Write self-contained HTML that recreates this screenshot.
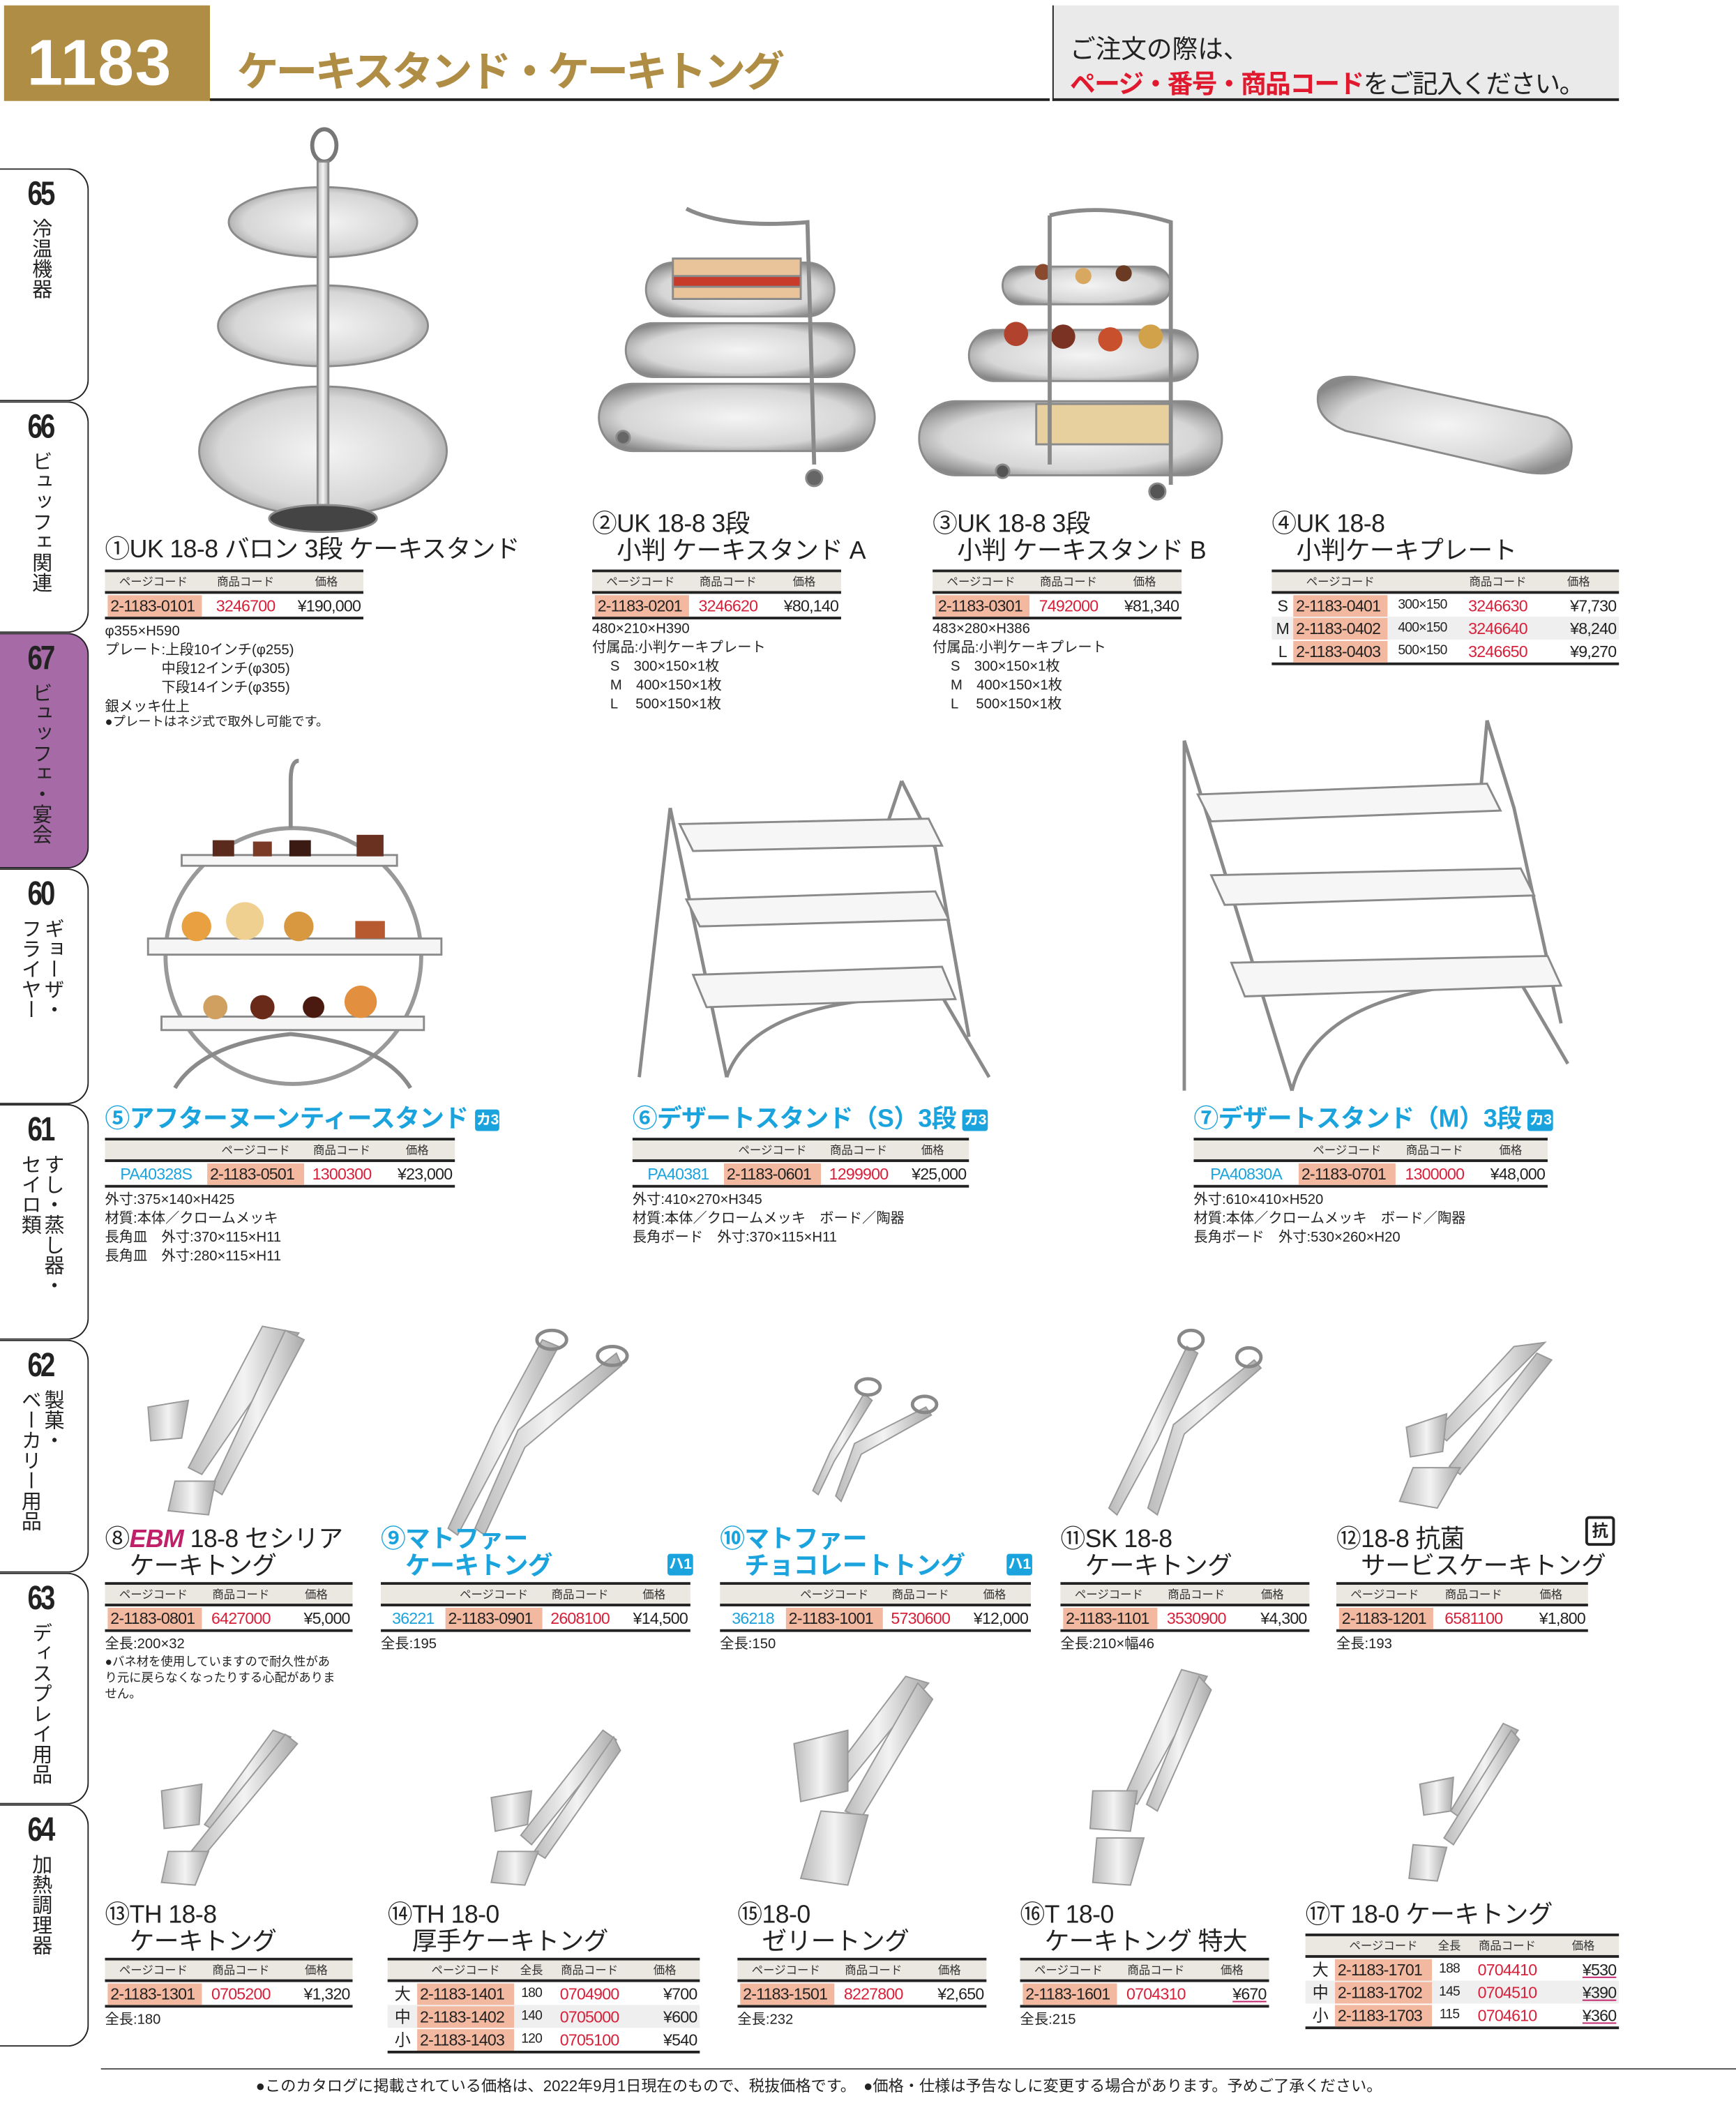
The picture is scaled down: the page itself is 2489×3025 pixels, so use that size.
<!DOCTYPE html>
<html><head><meta charset="utf-8">
<style>
*{margin:0;padding:0;box-sizing:border-box}
html,body{width:2489px;height:3025px;overflow:hidden;background:#fff}
#p{position:absolute;left:0;top:0;width:1290px;height:1567px;transform:scale(1.9295,1.9304);transform-origin:0 0;font-family:"Liberation Sans","Noto Sans CJK JP",sans-serif;color:#222}
.a{position:absolute;white-space:nowrap}
.ti{position:absolute;font-size:18.5px;line-height:20px;white-space:nowrap;color:#222;letter-spacing:-0.3px}
.bl{color:#1aa3dc;font-weight:bold}
.sp{position:absolute;font-size:10.5px;line-height:14px;white-space:pre;color:#222}
.t{position:absolute;border-top:2.5px solid #222;border-bottom:2.5px solid #222}
.h{display:grid;background:#ebe8e1;height:16px;font-size:8.5px;align-items:center;border-bottom:2px solid #222;color:#333;text-align:center}
.r{display:grid;height:17px;font-size:12px;align-items:center;letter-spacing:-0.4px;white-space:nowrap}
.r.g{background:#efefef}
.pc{background:#f3b8a0;height:16px;line-height:16px;padding:0 2px}
.rd{color:#d8203a;text-align:center}
.pr{text-align:right;padding-right:2px}
.cb{color:#1aa3dc;text-align:center}
.tab{position:absolute;left:0;width:66px;border:1.5px solid #222;border-left:none;border-radius:0 16px 16px 0}
.tab b{position:absolute;top:4px;left:0;width:60px;text-align:center;font-size:25px;font-weight:bold;letter-spacing:-2px;transform:scaleX(.8)}
.tab i{position:absolute;top:36px;font-style:normal;writing-mode:vertical-rl;font-size:15px;line-height:17px;left:17px;height:150px}
.bx{display:inline-block;background:#1aa3dc;color:#fff;font-size:11px;font-weight:bold;border-radius:2px;padding:0 1px;line-height:16px;vertical-align:middle}
</style></head><body><div id="p">

<!-- header -->
<div class="a" style="left:3px;top:4px;width:153px;height:71px;background:#b08d45"></div>
<div class="a" style="left:20px;top:20px;font-size:48px;font-weight:bold;color:#fff;letter-spacing:1px">1183</div>
<div class="a" style="left:176px;top:28px;font-size:31px;font-weight:bold;color:#b08d45;letter-spacing:-2px">ケーキスタンド・ケーキトング</div>
<div class="a" style="left:156px;top:73px;width:624px;height:2px;background:#222"></div>
<div class="a" style="left:782px;top:4px;width:421px;height:71px;background:#eaeaea;border-left:1.5px solid #222;border-bottom:2px solid #222"></div>
<div class="a" style="left:795px;top:22px;font-size:19px;color:#222">ご注文の際は、</div>
<div class="a" style="left:795px;top:48px;font-size:19px;color:#222;letter-spacing:-0.8px"><span style="color:#e0192e;font-weight:bold">ページ・番号・商品コード</span>をご記入ください。</div>

<!-- tabs -->
<div class="tab" style="top:125px;height:173px"><b>65</b><i style="left:22px">冷温機器</i></div>
<div class="tab" style="top:298px;height:172px"><b>66</b><i style="left:22px">ビュッフェ関連</i></div>
<div class="tab" style="top:470px;height:175px;background:#a66aa7"><b>67</b><i style="left:22px">ビュッフェ・宴会</i></div>
<div class="tab" style="top:645px;height:175px"><b>60</b><i style="left:14px">ギョーザ・<br>フライヤー</i></div>
<div class="tab" style="top:820px;height:175px"><b>61</b><i style="left:14px">すし・蒸し器・<br>セイロ類</i></div>
<div class="tab" style="top:995px;height:173px"><b>62</b><i style="left:14px">製菓・<br>ベーカリー用品</i></div>
<div class="tab" style="top:1168px;height:172px"><b>63</b><i style="left:22px">ディスプレイ用品</i></div>
<div class="tab" style="top:1340px;height:180px"><b>64</b><i style="left:22px">加熱調理器</i></div>

<!-- images -->
<svg class="a" style="left:0;top:0" width="1290" height="1567" viewBox="0 0 1290 1567">
<defs>
<radialGradient id="sv" cx="50%" cy="50%" r="60%"><stop offset="0" stop-color="#f4f4f4"/><stop offset=".7" stop-color="#d6d6d6"/><stop offset="1" stop-color="#888"/></radialGradient>
<linearGradient id="st" x1="0" x2="1"><stop offset="0" stop-color="#bbb"/><stop offset=".5" stop-color="#f3f3f3"/><stop offset="1" stop-color="#aaa"/></linearGradient>
</defs>
<g stroke="#8a8a8a" stroke-width="1.5">
<!-- 1 -->
<ellipse cx="241" cy="108" rx="9" ry="12" fill="none" stroke="#777" stroke-width="3"/>
<ellipse cx="240" cy="335" rx="92" ry="48" fill="url(#sv)"/>
<ellipse cx="240" cy="242" rx="78" ry="30" fill="url(#sv)"/>
<ellipse cx="240" cy="165" rx="70" ry="26" fill="url(#sv)"/>
<rect x="236" y="120" width="8" height="255" fill="url(#st)"/>
<ellipse cx="240" cy="385" rx="40" ry="10" fill="#444"/>
<!-- 2 -->
<rect x="445" y="285" width="205" height="50" rx="25" fill="url(#sv)"/>
<rect x="465" y="240" width="170" height="40" rx="20" fill="url(#sv)"/>
<rect x="480" y="195" width="140" height="40" rx="20" fill="url(#sv)"/>
<rect x="500" y="192" width="95" height="30" fill="#e9c49a"/><rect x="500" y="205" width="95" height="8" fill="#c83a2a"/>
<path d="M510 155 Q540 170 600 165 L605 345" fill="none" stroke-width="3"/>
<circle cx="463" cy="325" r="5" fill="#666"/><circle cx="605" cy="355" r="6" fill="#666"/>
<!-- 3 -->
<rect x="683" y="298" width="225" height="55" rx="27" fill="url(#sv)"/>
<rect x="720" y="245" width="170" height="38" rx="19" fill="url(#sv)"/>
<rect x="745" y="198" width="125" height="28" rx="14" fill="url(#sv)"/>
<rect x="770" y="300" width="100" height="30" fill="#e8cf9e"/>
<g stroke="none"><circle cx="755" cy="248" r="9" fill="#b0422e"/><circle cx="790" cy="250" r="9" fill="#7a3322"/><circle cx="825" cy="252" r="9" fill="#c9502c"/><circle cx="855" cy="250" r="9" fill="#d2a24a"/>
<circle cx="775" cy="202" r="6" fill="#8a4a2e"/><circle cx="805" cy="205" r="6" fill="#d9a860"/><circle cx="835" cy="203" r="6" fill="#6a3b22"/></g>
<path d="M780 160 Q820 150 870 165 L870 360 M780 160 L780 345" fill="none" stroke-width="3"/>
<circle cx="745" cy="350" r="5" fill="#555"/><circle cx="860" cy="365" r="6" fill="#555"/>
<!-- 4 -->
<path d="M980 290 Q990 275 1020 282 L1150 310 Q1175 320 1165 345 Q1155 355 1130 350 L1000 320 Q975 310 980 290Z" fill="url(#sv)"/>
<!-- 5 -->
<circle cx="218" cy="710" r="95" fill="none" stroke="#999" stroke-width="3"/>
<path d="M216 615 L216 580 Q216 565 222 565" fill="none" stroke-width="3"/>
<rect x="135" y="635" width="160" height="8" fill="#f5f5f5"/>
<rect x="110" y="697" width="218" height="12" fill="#f5f5f5"/>
<rect x="120" y="755" width="195" height="10" fill="#f5f5f5"/>
<path d="M130 808 Q150 775 216 768 Q285 775 305 808" fill="none" stroke-width="3"/>
<g stroke="none"><rect x="158" y="624" width="16" height="12" fill="#5a2a1c"/><rect x="188" y="625" width="14" height="11" fill="#7a3a26"/><rect x="215" y="624" width="16" height="12" fill="#3a1a12"/><rect x="265" y="620" width="20" height="16" fill="#6a3020"/>
<circle cx="146" cy="688" r="11" fill="#e8a040"/><circle cx="182" cy="684" r="14" fill="#f0d090"/><circle cx="222" cy="688" r="11" fill="#d89840"/><rect x="264" y="684" width="22" height="13" fill="#b85a30"/>
<circle cx="160" cy="748" r="9" fill="#d0a060"/><circle cx="195" cy="748" r="9" fill="#6a2a1a"/><circle cx="233" cy="748" r="8" fill="#4a1a10"/><circle cx="268" cy="744" r="12" fill="#e29040"/></g>
<!-- 6 -->
<path d="M498 600 L475 800 M498 600 L540 800 M670 580 L660 610 M670 580 L695 630 L720 770 M540 800 Q560 740 700 740 L735 800" fill="none" stroke-width="2.5"/>
<path d="M505 612 L690 608 L700 628 L515 632Z" fill="#f6f6f6"/>
<path d="M510 668 L695 662 L705 683 L520 688Z" fill="#f6f6f6"/>
<path d="M515 724 L700 718 L710 742 L525 748Z" fill="#f6f6f6"/>
<!-- 7 -->
<path d="M880 550 L880 810 M880 550 L960 810 M1105 535 L1100 590 M1105 535 L1125 600 L1160 760 M960 810 Q980 730 1130 730 L1165 790" fill="none" stroke-width="2.5"/>
<path d="M890 590 L1105 582 L1115 602 L900 610Z" fill="#f6f6f6"/>
<path d="M900 650 L1130 645 L1140 665 L910 672Z" fill="#f6f6f6"/>
<path d="M915 715 L1150 710 L1160 732 L925 740Z" fill="#f6f6f6"/>
</g>
<g stroke="#999" stroke-width="1">
<!-- tongs row 3 -->
<g fill="url(#st)">
<path d="M195 985 L222 990 L150 1095 L140 1090Z"/><path d="M212 988 L226 995 L165 1110 L157 1105Z"/>
<path d="M110 1045 L140 1040 L135 1068 L112 1070Z"/><path d="M130 1100 L160 1100 L155 1125 L125 1122Z"/>
<path d="M403 995 L415 1000 L372 1080 L340 1140 L333 1135 L368 1060Z"/><path d="M458 1005 L462 1014 L390 1075 L360 1140 L353 1135 L385 1062Z"/>
<path d="M642 1035 L648 1040 L620 1085 L608 1110 L604 1107 L617 1078Z"/><path d="M688 1045 L692 1051 L640 1080 L625 1115 L621 1111 L635 1072Z"/>
<path d="M882 1000 L890 1005 L860 1070 L830 1125 L824 1120 L852 1062Z"/><path d="M932 1010 L937 1016 L880 1065 L860 1125 L853 1120 L872 1058Z"/>
<path d="M1125 1000 L1148 997 L1075 1070 L1067 1063Z"/><path d="M1142 1005 L1153 1010 L1085 1095 L1077 1089Z"/>
<path d="M1045 1060 L1075 1050 L1072 1078 L1048 1082Z"/><path d="M1050 1090 L1085 1090 L1068 1120 L1040 1115Z"/>
</g>
<g fill="none" stroke="#888" stroke-width="2.5"><ellipse cx="410" cy="995" rx="11" ry="7"/><ellipse cx="455" cy="1007" rx="11" ry="7"/><ellipse cx="645" cy="1030" rx="9" ry="6"/><ellipse cx="687" cy="1043" rx="9" ry="6"/><ellipse cx="885" cy="995" rx="9" ry="7"/><ellipse cx="928" cy="1008" rx="9" ry="7"/></g>
<!-- tongs row 4 -->
<g fill="url(#st)">
<path d="M203 1285 L216 1290 L160 1360 L152 1355Z"/><path d="M212 1288 L221 1295 L150 1380 L142 1375Z"/>
<path d="M120 1330 L150 1325 L148 1355 L122 1358Z"/><path d="M125 1375 L155 1375 L145 1400 L120 1398Z"/>
<path d="M448 1285 L458 1292 L395 1370 L387 1363Z"/><path d="M456 1290 L461 1300 L405 1380 L397 1375Z"/>
<path d="M365 1335 L395 1330 L392 1355 L368 1360Z"/><path d="M370 1375 L400 1375 L390 1400 L365 1398Z"/>
<path d="M673 1245 L690 1250 L625 1330 L614 1323Z"/><path d="M682 1250 L693 1262 L640 1350 L628 1345Z"/>
<path d="M590 1295 L630 1285 L630 1330 L595 1338Z"/><path d="M610 1345 L645 1348 L630 1400 L595 1395Z"/>
<path d="M878 1240 L897 1245 L845 1340 L835 1335Z"/><path d="M891 1245 L900 1255 L860 1345 L852 1340Z"/>
<path d="M812 1330 L845 1330 L840 1360 L810 1358Z"/><path d="M815 1365 L850 1365 L840 1400 L812 1398Z"/>
<path d="M1117 1280 L1128 1285 L1085 1350 L1078 1345Z"/><path d="M1123 1285 L1129 1292 L1080 1370 L1073 1365Z"/>
<path d="M1055 1325 L1080 1320 L1078 1345 L1058 1348Z"/><path d="M1050 1370 L1075 1372 L1068 1397 L1047 1395Z"/>
</g>
</g>
</svg>

<!-- ROW 1 -->
<div class="ti" style="left:78px;top:398px">①UK 18-8 バロン 3段 ケーキスタンド</div>
<div class="t" style="left:78px;top:423px;width:192px"><div class="h" style="grid-template-columns:72px 65px 55px"><span>ページコード</span><span>商品コード</span><span>価格</span></div>
<div class="r" style="grid-template-columns:72px 65px 55px"><span class="pc" style="margin-left:2px">2-1183-0101</span><span class="rd">3246700</span><span class="pr">¥190,000</span></div></div>
<div class="sp" style="left:78px;top:462px">φ355×H590
プレート:上段10インチ(φ255)
　　　　中段12インチ(φ305)
　　　　下段14インチ(φ355)
銀メッキ仕上</div>
<div class="sp" style="left:78px;top:530px;font-size:9.5px">●プレートはネジ式で取外し可能です。</div>

<div class="ti" style="left:440px;top:379px">②UK 18-8 3段<br>　小判 ケーキスタンド A</div>
<div class="t" style="left:440px;top:423px;width:185px"><div class="h" style="grid-template-columns:72px 58px 55px"><span>ページコード</span><span>商品コード</span><span>価格</span></div>
<div class="r" style="grid-template-columns:72px 58px 55px"><span class="pc" style="margin-left:2px">2-1183-0201</span><span class="rd">3246620</span><span class="pr">¥80,140</span></div></div>
<div class="sp" style="left:440px;top:460px">480×210×H390
付属品:小判ケーキプレート
　 S　300×150×1枚
　 M　400×150×1枚
　 L　 500×150×1枚</div>

<div class="ti" style="left:693px;top:379px">③UK 18-8 3段<br>　小判 ケーキスタンド B</div>
<div class="t" style="left:693px;top:423px;width:185px"><div class="h" style="grid-template-columns:72px 58px 55px"><span>ページコード</span><span>商品コード</span><span>価格</span></div>
<div class="r" style="grid-template-columns:72px 58px 55px"><span class="pc" style="margin-left:2px">2-1183-0301</span><span class="rd">7492000</span><span class="pr">¥81,340</span></div></div>
<div class="sp" style="left:693px;top:460px">483×280×H386
付属品:小判ケーキプレート
　 S　300×150×1枚
　 M　400×150×1枚
　 L　 500×150×1枚</div>

<div class="ti" style="left:945px;top:379px">④UK 18-8<br>　小判ケーキプレート</div>
<div class="t" style="left:945px;top:423px;width:258px"><div class="h" style="grid-template-columns:16px 70px 52px 60px 60px"><span></span><span>ページコード</span><span></span><span>商品コード</span><span>価格</span></div>
<div class="r" style="grid-template-columns:16px 70px 52px 60px 60px"><span style="text-align:center">S</span><span class="pc">2-1183-0401</span><span style="font-size:10px;text-align:center">300×150</span><span class="rd">3246630</span><span class="pr">¥7,730</span></div>
<div class="r g" style="grid-template-columns:16px 70px 52px 60px 60px"><span style="text-align:center">M</span><span class="pc">2-1183-0402</span><span style="font-size:10px;text-align:center">400×150</span><span class="rd">3246640</span><span class="pr">¥8,240</span></div>
<div class="r" style="grid-template-columns:16px 70px 52px 60px 60px"><span style="text-align:center">L</span><span class="pc">2-1183-0403</span><span style="font-size:10px;text-align:center">500×150</span><span class="rd">3246650</span><span class="pr">¥9,270</span></div></div>

<!-- ROW 2 -->
<div class="ti bl" style="left:78px;top:821px">⑤アフターヌーンティースタンド <span class="bx">カ3</span></div>
<div class="t" style="left:78px;top:845px;width:260px"><div class="h" style="grid-template-columns:76px 72px 56px 56px"><span></span><span>ページコード</span><span>商品コード</span><span>価格</span></div>
<div class="r" style="grid-template-columns:76px 72px 56px 56px"><span class="cb">PA40328S</span><span class="pc">2-1183-0501</span><span class="rd">1300300</span><span class="pr">¥23,000</span></div></div>
<div class="sp" style="left:78px;top:884px">外寸:375×140×H425
材質:本体／クロームメッキ
長角皿　外寸:370×115×H11
長角皿　外寸:280×115×H11</div>

<div class="ti bl" style="left:470px;top:821px">⑥デザートスタンド（S）3段 <span class="bx">カ3</span></div>
<div class="t" style="left:470px;top:845px;width:250px"><div class="h" style="grid-template-columns:68px 72px 56px 54px"><span></span><span>ページコード</span><span>商品コード</span><span>価格</span></div>
<div class="r" style="grid-template-columns:68px 72px 56px 54px"><span class="cb">PA40381</span><span class="pc">2-1183-0601</span><span class="rd">1299900</span><span class="pr">¥25,000</span></div></div>
<div class="sp" style="left:470px;top:884px">外寸:410×270×H345
材質:本体／クロームメッキ　ボード／陶器
長角ボード　外寸:370×115×H11</div>

<div class="ti bl" style="left:887px;top:821px">⑦デザートスタンド（M）3段 <span class="bx">カ3</span></div>
<div class="t" style="left:887px;top:845px;width:263px"><div class="h" style="grid-template-columns:78px 72px 58px 55px"><span></span><span>ページコード</span><span>商品コード</span><span>価格</span></div>
<div class="r" style="grid-template-columns:78px 72px 58px 55px"><span class="cb">PA40830A</span><span class="pc">2-1183-0701</span><span class="rd">1300000</span><span class="pr">¥48,000</span></div></div>
<div class="sp" style="left:887px;top:884px">外寸:610×410×H520
材質:本体／クロームメッキ　ボード／陶器
長角ボード　外寸:530×260×H20</div>

<!-- ROW 3 -->
<div class="ti" style="left:78px;top:1133px">⑧<i style="color:#c0206a;font-weight:bold">EBM</i> 18-8 セシリア<br>　ケーキトング</div>
<div class="t" style="left:78px;top:1175px;width:184px"><div class="h" style="grid-template-columns:72px 58px 54px"><span>ページコード</span><span>商品コード</span><span>価格</span></div>
<div class="r" style="grid-template-columns:72px 58px 54px"><span class="pc" style="margin-left:2px">2-1183-0801</span><span class="rd">6427000</span><span class="pr">¥5,000</span></div></div>
<div class="sp" style="left:78px;top:1214px">全長:200×32</div>
<div class="sp" style="left:78px;top:1228px;font-size:9px;line-height:12px">●バネ材を使用していますので耐久性があ
り元に戻らなくなったりする心配がありま
せん。</div>

<div class="ti bl" style="left:283px;top:1133px">⑨マトファー<br>　ケーキトング</div>
<div class="a bx" style="left:496px;top:1154px">ハ1</div>
<div class="t" style="left:283px;top:1175px;width:230px"><div class="h" style="grid-template-columns:48px 72px 56px 54px"><span></span><span>ページコード</span><span>商品コード</span><span>価格</span></div>
<div class="r" style="grid-template-columns:48px 72px 56px 54px"><span class="cb">36221</span><span class="pc">2-1183-0901</span><span class="rd">2608100</span><span class="pr">¥14,500</span></div></div>
<div class="sp" style="left:283px;top:1214px">全長:195</div>

<div class="ti bl" style="left:535px;top:1133px">⑩マトファー<br>　チョコレートトング</div>
<div class="a bx" style="left:748px;top:1154px">ハ1</div>
<div class="t" style="left:535px;top:1175px;width:231px"><div class="h" style="grid-template-columns:49px 72px 56px 54px"><span></span><span>ページコード</span><span>商品コード</span><span>価格</span></div>
<div class="r" style="grid-template-columns:49px 72px 56px 54px"><span class="cb">36218</span><span class="pc">2-1183-1001</span><span class="rd">5730600</span><span class="pr">¥12,000</span></div></div>
<div class="sp" style="left:535px;top:1214px">全長:150</div>

<div class="ti" style="left:788px;top:1133px">⑪SK 18-8<br>　ケーキトング</div>
<div class="t" style="left:788px;top:1175px;width:185px"><div class="h" style="grid-template-columns:72px 58px 55px"><span>ページコード</span><span>商品コード</span><span>価格</span></div>
<div class="r" style="grid-template-columns:72px 58px 55px"><span class="pc" style="margin-left:2px">2-1183-1101</span><span class="rd">3530900</span><span class="pr">¥4,300</span></div></div>
<div class="sp" style="left:788px;top:1214px">全長:210×幅46</div>

<div class="ti" style="left:993px;top:1133px">⑫18-8 抗菌<br>　サービスケーキトング</div>
<div class="a" style="left:1178px;top:1126px;width:22px;height:22px;border:2px solid #222;border-radius:3px;font-size:12px;text-align:center;line-height:18px;font-weight:bold">抗</div>
<div class="t" style="left:993px;top:1175px;width:187px"><div class="h" style="grid-template-columns:72px 60px 55px"><span>ページコード</span><span>商品コード</span><span>価格</span></div>
<div class="r" style="grid-template-columns:72px 60px 55px"><span class="pc" style="margin-left:2px">2-1183-1201</span><span class="rd">6581100</span><span class="pr">¥1,800</span></div></div>
<div class="sp" style="left:993px;top:1214px">全長:193</div>

<!-- ROW 4 -->
<div class="ti" style="left:78px;top:1412px">⑬TH 18-8<br>　ケーキトング</div>
<div class="t" style="left:78px;top:1454px;width:184px"><div class="h" style="grid-template-columns:72px 58px 54px"><span>ページコード</span><span>商品コード</span><span>価格</span></div>
<div class="r" style="grid-template-columns:72px 58px 54px"><span class="pc" style="margin-left:2px">2-1183-1301</span><span class="rd">0705200</span><span class="pr">¥1,320</span></div></div>
<div class="sp" style="left:78px;top:1493px">全長:180</div>

<div class="ti" style="left:288px;top:1412px">⑭TH 18-0<br>　厚手ケーキトング</div>
<div class="t" style="left:288px;top:1454px;width:232px"><div class="h" style="grid-template-columns:22px 72px 26px 60px 52px"><span></span><span>ページコード</span><span>全長</span><span>商品コード</span><span>価格</span></div>
<div class="r" style="grid-template-columns:22px 72px 26px 60px 52px"><span style="text-align:center">大</span><span class="pc">2-1183-1401</span><span style="font-size:10px;text-align:center">180</span><span class="rd">0704900</span><span class="pr">¥700</span></div>
<div class="r g" style="grid-template-columns:22px 72px 26px 60px 52px"><span style="text-align:center">中</span><span class="pc">2-1183-1402</span><span style="font-size:10px;text-align:center">140</span><span class="rd">0705000</span><span class="pr">¥600</span></div>
<div class="r" style="grid-template-columns:22px 72px 26px 60px 52px"><span style="text-align:center">小</span><span class="pc">2-1183-1403</span><span style="font-size:10px;text-align:center">120</span><span class="rd">0705100</span><span class="pr">¥540</span></div></div>

<div class="ti" style="left:548px;top:1412px">⑮18-0<br>　ゼリートング</div>
<div class="t" style="left:548px;top:1454px;width:185px"><div class="h" style="grid-template-columns:72px 58px 55px"><span>ページコード</span><span>商品コード</span><span>価格</span></div>
<div class="r" style="grid-template-columns:72px 58px 55px"><span class="pc" style="margin-left:2px">2-1183-1501</span><span class="rd">8227800</span><span class="pr">¥2,650</span></div></div>
<div class="sp" style="left:548px;top:1493px">全長:232</div>

<div class="ti" style="left:758px;top:1412px">⑯T 18-0<br>　ケーキトング 特大</div>
<div class="t" style="left:758px;top:1454px;width:185px"><div class="h" style="grid-template-columns:72px 58px 55px"><span>ページコード</span><span>商品コード</span><span>価格</span></div>
<div class="r" style="grid-template-columns:72px 58px 55px"><span class="pc" style="margin-left:2px">2-1183-1601</span><span class="rd">0704310</span><span class="pr" style="text-decoration:underline;text-decoration-color:#c0206a">¥670</span></div></div>
<div class="sp" style="left:758px;top:1493px">全長:215</div>

<div class="ti" style="left:970px;top:1412px">⑰T 18-0 ケーキトング</div>
<div class="t" style="left:970px;top:1436px;width:233px"><div class="h" style="grid-template-columns:22px 72px 26px 60px 53px"><span></span><span>ページコード</span><span>全長</span><span>商品コード</span><span>価格</span></div>
<div class="r" style="grid-template-columns:22px 72px 26px 60px 53px"><span style="text-align:center">大</span><span class="pc">2-1183-1701</span><span style="font-size:10px;text-align:center">188</span><span class="rd">0704410</span><span class="pr" style="text-decoration:underline;text-decoration-color:#c0206a">¥530</span></div>
<div class="r g" style="grid-template-columns:22px 72px 26px 60px 53px"><span style="text-align:center">中</span><span class="pc">2-1183-1702</span><span style="font-size:10px;text-align:center">145</span><span class="rd">0704510</span><span class="pr" style="text-decoration:underline;text-decoration-color:#c0206a">¥390</span></div>
<div class="r" style="grid-template-columns:22px 72px 26px 60px 53px"><span style="text-align:center">小</span><span class="pc">2-1183-1703</span><span style="font-size:10px;text-align:center">115</span><span class="rd">0704610</span><span class="pr" style="text-decoration:underline;text-decoration-color:#c0206a">¥360</span></div></div>

<!-- footer -->
<div class="a" style="left:75px;top:1536px;width:1215px;height:1px;background:#555"></div>
<div class="a" style="left:190px;top:1541px;font-size:11.5px">●このカタログに掲載されている価格は、2022年9月1日現在のもので、税抜価格です。　●価格・仕様は予告なしに変更する場合があります。予めご了承ください。</div>
</div></body></html>
